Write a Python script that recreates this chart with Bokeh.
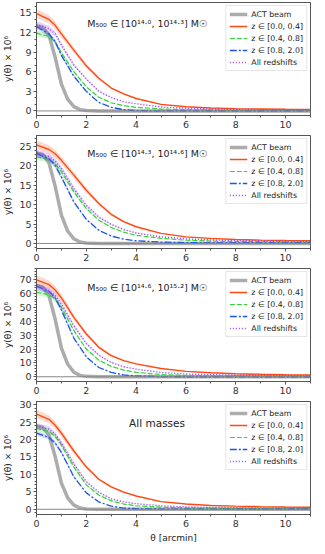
from bokeh.plotting import figure
from bokeh.layouts import column
from bokeh.models import Range1d, Span, Label, FixedTicker
from bokeh.embed import file_html
from bokeh.resources import INLINE

# ---------------- data ----------------
theta = [0, 0.5, 0.75, 1, 1.5, 2, 2.5, 3, 3.5, 4, 5, 6, 7, 8, 9, 10, 11]
beam_theta = [0, 0.25, 0.5, 0.75, 1, 1.25, 1.5, 1.75, 2, 2.5, 11]

series_labels = ["z ∈ [0.0, 0.4]", "z ∈ [0.4, 0.8]", "z ∈ [0.8, 2.0]", "All redshifts"]
beam_label = "ACT beam"
panel_titles = ["M₅₀₀ ∈ [10¹⁴·⁰, 10¹⁴·³] M☉",
                "M₅₀₀ ∈ [10¹⁴·³, 10¹⁴·⁶] M☉",
                "M₅₀₀ ∈ [10¹⁴·⁶, 10¹⁵·²] M☉",
                "All masses"]

# panel 1
p1_beam = [13.0, 12.8, 11.6, 8.2, 4.1, 1.8, 0.65, 0.2, 0.05, 0.0, 0.0]
p1_z1 = [14.9, 14.0, 13.1, 11.8, 9.3, 6.9, 5.0, 3.5, 2.6, 1.9, 1.0, 0.65, 0.45, 0.35, 0.3, 0.25, 0.22]
p1_z2 = [11.9, 11.4, 10.6, 8.9, 6.0, 3.7, 2.1, 1.25, 0.8, 0.55, 0.3, 0.2, 0.15, 0.12, 0.1, 0.1, 0.1]
p1_z3 = [12.9, 11.8, 10.6, 8.5, 5.3, 3.0, 1.3, 0.55, 0.2, 0.05, 0.0, 0.0, 0.0, 0.0, 0.0, 0.0, 0.0]
p1_all = [13.3, 12.6, 11.8, 10.1, 7.0, 4.9, 3.0, 2.05, 1.4, 1.1, 0.6, 0.4, 0.3, 0.25, 0.2, 0.18, 0.15]

# panel 2
p2_beam = [23.3, 22.9, 20.8, 14.7, 7.3, 3.2, 1.2, 0.35, 0.1, 0.0, 0.0]
p2_z1 = [25.4, 24.2, 23.1, 21.4, 17.6, 13.7, 10.3, 7.5, 5.6, 4.3, 2.6, 1.7, 1.3, 1.0, 0.85, 0.75, 0.7]
p2_z2 = [22.3, 21.6, 20.5, 18.4, 13.3, 9.0, 6.0, 4.1, 2.9, 2.1, 1.3, 0.85, 0.6, 0.5, 0.45, 0.4, 0.35]
p2_z3 = [23.1, 21.8, 20.1, 17.1, 10.7, 6.2, 3.4, 1.9, 1.1, 0.7, 0.35, 0.2, 0.15, 0.15, 0.15, 0.15, 0.15]
p2_all = [23.3, 22.4, 21.2, 19.3, 14.1, 9.8, 6.8, 4.9, 3.6, 2.7, 1.7, 1.2, 0.9, 0.75, 0.65, 0.6, 0.55]

# panel 3
p3_beam = [65.7, 64.7, 58.5, 41.4, 20.7, 9.2, 3.3, 1.0, 0.3, 0.0, 0.0]
p3_z1 = [69.8, 66.4, 62.5, 56.8, 42.8, 30.8, 21.2, 15.2, 11.6, 9.3, 6.0, 3.9, 2.9, 2.2, 1.8, 1.5, 1.3]
p3_z2 = [60.9, 59.0, 56.0, 50.0, 33.2, 20.0, 12.0, 7.5, 4.8, 3.2, 1.6, 1.0, 0.7, 0.6, 0.5, 0.5, 0.45]
p3_z3 = [65.2, 61.6, 56.8, 48.1, 27.9, 14.4, 6.7, 3.1, 1.4, 0.6, 0.1, 0.0, -0.1, -0.1, -0.1, -0.1, -0.1]
p3_all = [65.0, 62.0, 58.5, 52.4, 36.8, 24.0, 15.6, 10.3, 7.2, 5.5, 3.1, 2.0, 1.5, 1.2, 1.0, 0.9, 0.8]

# panel 4
p4_beam = [23.9, 23.5, 21.3, 15.1, 7.5, 3.3, 1.2, 0.36, 0.1, 0.0, 0.0]
p4_z1 = [27.3, 25.8, 24.1, 21.8, 16.7, 12.1, 8.6, 6.4, 4.9, 3.8, 2.2, 1.5, 1.1, 0.9, 0.75, 0.65, 0.6]
p4_z2 = [23.2, 22.3, 20.9, 18.4, 12.1, 7.0, 4.1, 2.4, 1.5, 1.0, 0.6, 0.4, 0.3, 0.25, 0.2, 0.2, 0.2]
p4_z3 = [21.8, 20.6, 19.0, 16.3, 9.3, 4.7, 2.1, 0.9, 0.35, 0.15, 0.05, 0.05, 0.05, 0.05, 0.05, 0.05, 0.05]
p4_all = [23.9, 23.0, 21.5, 19.0, 13.0, 7.9, 4.9, 3.0, 2.1, 1.6, 1.0, 0.7, 0.55, 0.45, 0.4, 0.35, 0.3]

# fractional half-width of the shaded uncertainty bands, per series
band_frac = [0.045, 0.035, 0.03, 0.035]

y_ranges = [(-0.7, 16.6), (-1.3, 27.8), (-3.4, 78.0), (-1.5, 30.9)]
y_ticks = [[0, 3, 6, 9, 12, 15], [0, 5, 10, 15, 20, 25],
           [0, 10, 20, 30, 40, 50, 60, 70], [0, 5, 10, 15, 20, 25, 30]]
y_minor = [3, 5, 5, 5]
x_ticks = [0, 2, 4, 6, 8, 10]
title_pos = [(4.45, 13.4), (4.45, 23.1), (4.45, 64.4), (4.84, 24.6)]
title_sizes = ["9.5px", "9.5px", "9.5px", "10.5px"]

panels = [
    (p1_beam, [p1_z1, p1_z2, p1_z3, p1_all]),
    (p2_beam, [p2_z1, p2_z2, p2_z3, p2_all]),
    (p3_beam, [p3_z1, p3_z2, p3_z3, p3_all]),
    (p4_beam, [p4_z1, p4_z2, p4_z3, p4_all]),
]

# ---------------- styling ----------------
FONT = "DejaVu Sans"
colors = ["#ff4a12", "#33d433", "#1f55e6", "#9540f0"]
dashes = ["solid", "5 2", "7 2 2 2", "1 2"]
widths = [1.4, 1.2, 1.3, 1.4]
AX = "#555555"

figs = []
for i, (beam, profs) in enumerate(panels):
    last = i == len(panels) - 1
    p = figure(frame_width=274, frame_height=113,
               x_range=Range1d(0, 11), y_range=Range1d(*y_ranges[i]),
               output_backend="svg", toolbar_location=None,
               min_border_left=32, min_border_right=3,
               min_border_top=2 if i == 0 else 5, min_border_bottom=2)
    p.grid.visible = False
    p.outline_line_color = AX
    p.outline_line_width = 1
    p.background_fill_color = "white"

    # zero line
    p.add_layout(Span(location=0, dimension="width", line_color="#888888", line_width=1))

    # beam
    p.line(beam_theta, beam, line_color="#a8a8a8", line_width=3.5, line_alpha=0.95,
           legend_label=beam_label)

    for j, prof in enumerate(profs):
        lo = [v - abs(v) * band_frac[j] for v in prof]
        hi = [v + abs(v) * band_frac[j] for v in prof]
        p.varea(x=theta, y1=lo, y2=hi, fill_color=colors[j], fill_alpha=0.22)
        p.line(theta, prof, line_color=colors[j], line_width=widths[j],
               line_dash=dashes[j], legend_label=series_labels[j])

    tx, ty = title_pos[i]
    p.add_layout(Label(x=tx, y=ty, text=panel_titles[i], text_align="center",
                       text_baseline="middle", text_font=FONT,
                       text_font_size=title_sizes[i], text_color="#222222"))

    for ax in (p.xaxis[0], p.yaxis[0]):
        ax.axis_line_color = AX
        ax.major_tick_line_color = AX
        ax.minor_tick_line_color = AX
        ax.major_tick_in = 0
        ax.major_tick_out = 3
        ax.minor_tick_in = 0
        ax.minor_tick_out = 2
        ax.major_label_text_font = FONT
        ax.major_label_text_font_size = "9.5px"
        ax.major_label_text_color = "#333333"
        ax.major_label_standoff = 2
        ax.axis_label_text_font = FONT
        ax.axis_label_text_font_size = "9px"
        ax.axis_label_text_font_style = "normal"
        ax.axis_label_text_color = "#222222"
        ax.axis_label_standoff = 3

    p.xaxis[0].ticker = FixedTicker(ticks=x_ticks, minor_ticks=[1, 3, 5, 7, 9, 11])
    yt = y_ticks[i]
    step = yt[1] - yt[0]
    n = y_minor[i]
    minors = [yt[0] + k * step / n for k in range(-n, (len(yt) + 1) * n)]
    p.yaxis[0].ticker = FixedTicker(ticks=yt, minor_ticks=minors)
    p.yaxis[0].axis_label = "y(θ) × 10⁶"
    if last:
        p.xaxis[0].axis_label = "θ [arcmin]"

    lg = p.legend[0]
    lg.location = "top_right"
    lg.label_text_font = FONT
    lg.label_text_font_size = "7.8px"
    lg.label_text_color = "#222222"
    lg.border_line_color = "#cccccc"
    lg.border_line_width = 1
    lg.background_fill_alpha = 0.85
    lg.padding = 3
    lg.spacing = 2
    lg.margin = 3
    lg.glyph_width = 18
    lg.glyph_height = 10
    lg.label_height = 10
    lg.label_standoff = 4
    figs.append(p)

layout = column(*figs, spacing=0)
open("out.html", "w").write(file_html(layout, INLINE))
